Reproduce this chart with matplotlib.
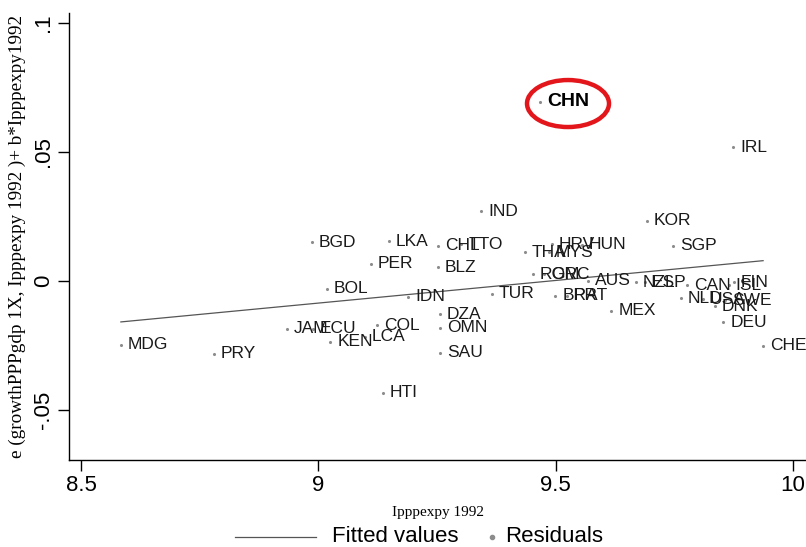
import matplotlib.pyplot as plt
from matplotlib.patches import Ellipse
import numpy as np

# log PPP expenditure per capita, 1992, and partial residual of growth
countries = ['MDG', 'PRY', 'JAM', 'ECU', 'KEN', 'LCA', 'COL', 'HTI', 'BGD', 'LKA',
             'PER', 'BOL', 'IDN', 'CHL', 'TTO', 'BLZ', 'IND', 'DZA', 'OMN', 'SAU',
             'TUR', 'THA', 'MYS', 'HRV', 'HUN', 'ROM', 'GRC', 'BRA', 'PRT', 'AUS',
             'MEX', 'NZL', 'ESP', 'KOR', 'SGP', 'CAN', 'NLD', 'USA', 'DNK', 'SWE',
             'ISL', 'FIN', 'DEU', 'CHE', 'IRL', 'CHN']
lpppexpy = [8.584, 8.780, 8.934, 8.989, 9.025, 9.098, 9.124, 9.136, 8.987, 9.149,
            9.111, 9.018, 9.189, 9.252, 9.301, 9.252, 9.343, 9.256, 9.256, 9.256,
            9.366, 9.435, 9.486, 9.492, 9.555, 9.452, 9.475, 9.499, 9.524, 9.568,
            9.617, 9.669, 9.688, 9.692, 9.747, 9.777, 9.764, 9.810, 9.836, 9.857,
            9.865, 9.876, 9.853, 9.937, 9.874, 9.467]
resid = [-0.0248, -0.0283, -0.0186, -0.0186, -0.0236, -0.0217, -0.0171, -0.0434, 0.0151, 0.0155,
         0.0066, -0.0031, -0.0062, 0.0136, 0.0143, 0.0054, 0.0271, -0.0128, -0.0182, -0.0279,
         -0.0050, 0.0112, 0.0112, 0.0143, 0.0140, 0.0027, 0.0027, -0.0058, -0.0058, 0.0000,
         -0.0116, -0.0004, -0.0004, 0.0233, 0.0136, -0.0016, -0.0066, -0.0070, -0.0097, -0.0074,
         -0.0016, -0.0004, -0.0159, -0.0252, 0.0519, 0.0694]

xticks = [8.5, 9, 9.5, 10]
xticklabels = ['8.5', '9', '9.5', '10']
yticks = [-0.05, 0, 0.05, 0.1]
yticklabels = ['-.05', '0', '.05', '.1']

sans = ['Liberation Sans', 'DejaVu Sans']
serif = ['Liberation Serif', 'DejaVu Serif']

x = np.array(lpppexpy)
y = np.array(resid)

fig = plt.figure(figsize=(8.06, 5.47), dpi=100)
ax = fig.add_axes([69 / 806, 87 / 547, 737 / 806, 447 / 547])

# linear fit over the data range
b, a = np.polyfit(x, y, 1)
xs = np.array([x.min(), x.max()])
ax.plot(xs, a + b * xs, color='#555555', lw=0.9, zorder=1)

ax.scatter(x, y, s=5, color='#8c8c8c', zorder=2, linewidths=0)

for name, xi, yi in zip(countries, x, y):
    if name == 'CHN':
        ax.annotate(name, (xi, yi), xytext=(5, 0), textcoords='offset points',
                    va='center', ha='left', fontsize=14, fontweight='bold',
                    family=sans, color='black')
    else:
        ax.annotate(name, (xi, yi), xytext=(5, 0), textcoords='offset points',
                    va='center', ha='left', fontsize=12.5,
                    family=sans, color='#1a1a1a')

# highlight around China
ax.add_patch(Ellipse((9.526, 0.0688), 82 / 474.67, 47 / 2580, fill=False,
                     edgecolor='#e3161c', lw=3.2, zorder=3))

ax.set_xlim(8.4747, 10.0274)
ax.set_ylim(-0.0694, 0.1039)
ax.set_xticks(xticks)
ax.set_xticklabels(xticklabels, family=sans, fontsize=16)
ax.set_yticks(yticks)
ax.set_yticklabels(yticklabels, family=sans, fontsize=16, rotation=90, va='center')
ax.tick_params(axis='both', direction='out', length=8, width=1, color='black', pad=3)

for side in ['top', 'right']:
    ax.spines[side].set_visible(False)
for side in ['left', 'bottom']:
    ax.spines[side].set_linewidth(1)

ax.set_xlabel('Ipppexpy 1992', family=serif, fontsize=11, labelpad=7)
ax.set_ylabel('e (growthPPPgdp 1X, Ipppexpy 1992 )+ b*Ipppexpy1992', family=serif,
              fontsize=13.8, labelpad=5)

# legend below the axes
fig.lines.append(plt.Line2D([235 / 806, 316 / 806], [1 - 537 / 547] * 2,
                            color='#555555', lw=0.9, transform=fig.transFigure))
fig.text(332 / 806, 1 - 537 / 547, 'Fitted values', family=sans, fontsize=16,
         va='center', ha='left')
fig.lines.append(plt.Line2D([492 / 806], [1 - 537 / 547], marker='o', ms=3,
                            color='#8c8c8c', lw=0, transform=fig.transFigure))
fig.text(505 / 806, 1 - 537 / 547, 'Residuals', family=sans, fontsize=16,
         va='center', ha='left')

fig.savefig('out.png', dpi=100)
